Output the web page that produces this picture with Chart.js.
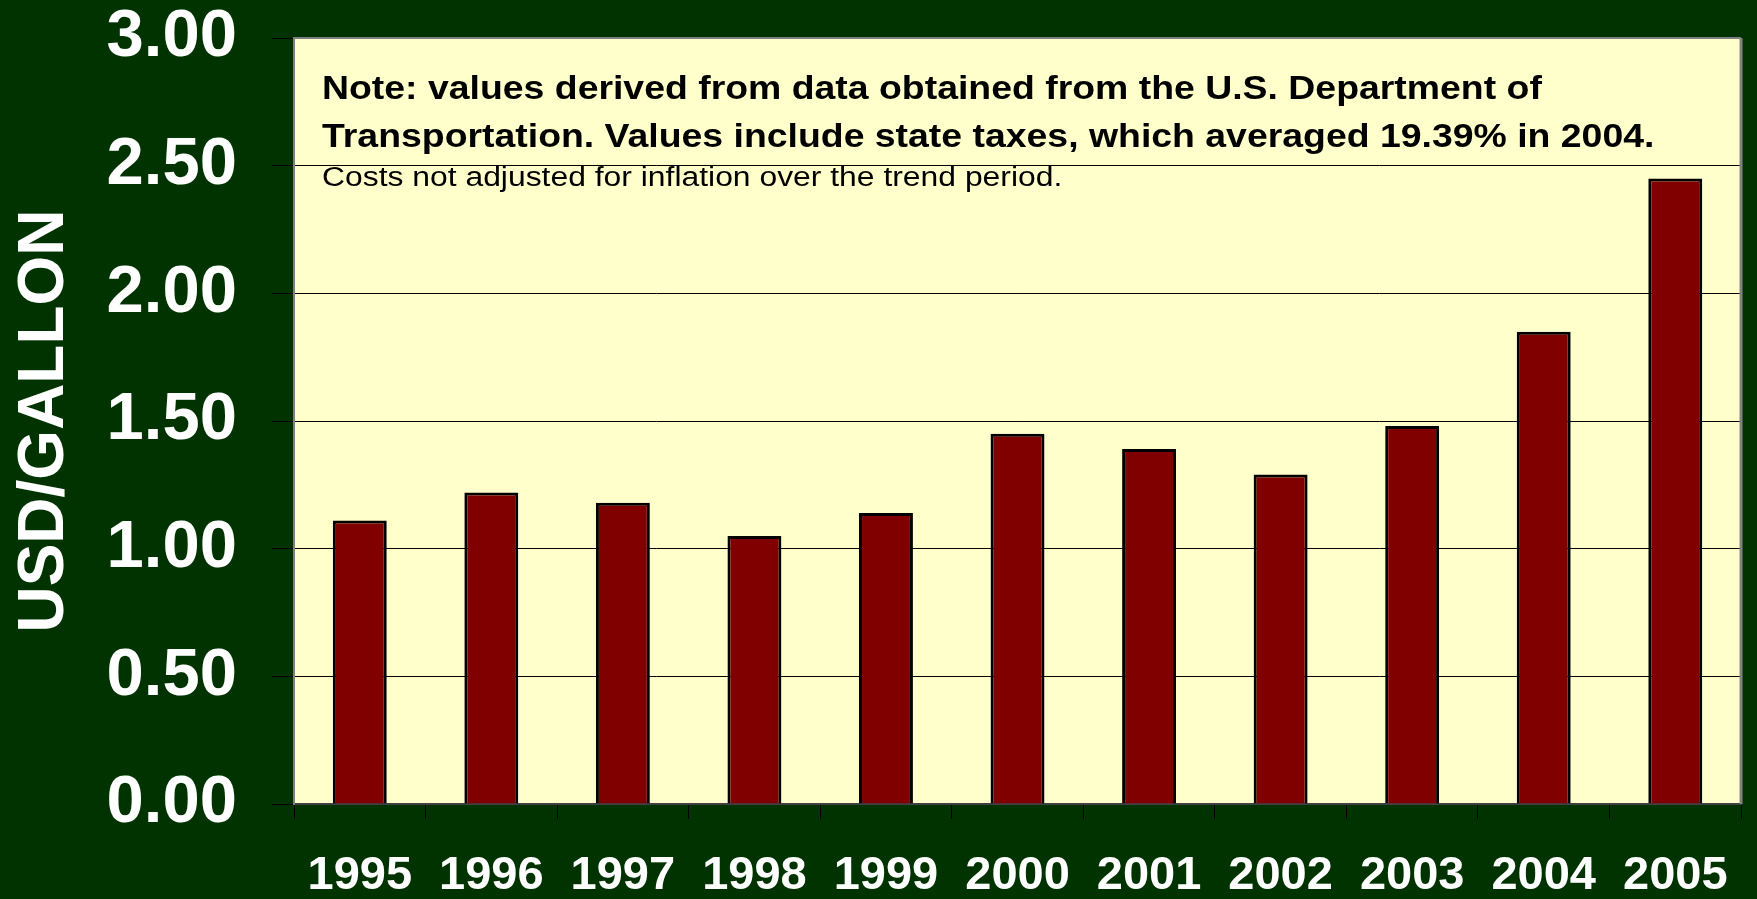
<!DOCTYPE html>
<html><head><meta charset="utf-8">
<script src="https://cdn.jsdelivr.net/npm/chart.js@4.4.1/dist/chart.umd.min.js"></script>
<style>
html,body{margin:0;padding:0;background:#003300;overflow:hidden;}
#wrap{width:1757px;height:899px;}
</style></head><body>
<div id="wrap"><canvas id="c" width="1757" height="899"></canvas></div>
<script>
const years = ['1995','1996','1997','1998','1999','2000','2001','2002','2003','2004','2005'];
const prices = [1.11, 1.22, 1.18, 1.05, 1.14, 1.45, 1.39, 1.29, 1.48, 1.85, 2.45];
const yTickLabels = ['0.00','0.50','1.00','1.50','2.00','2.50','3.00'];
const axisTitle = 'USD/GALLON';
const noteBold = [
  'Note: values derived from data obtained from the U.S. Department of',
  'Transportation. Values include state taxes, which averaged 19.39% in 2004.'
];
const noteRegular = 'Costs not adjusted for inflation over the trend period.';

const FONT = '"Liberation Sans", Arial, sans-serif';

function drawScaled(ctx, text, x, y, sx) {
  ctx.save();
  ctx.translate(x, y);
  ctx.scale(sx, 1);
  ctx.fillText(text, 0, 0);
  ctx.restore();
}

const framePlugin = {
  id: 'frame',
  beforeDraw(chart) {
    const {ctx, chartArea: a, width, height} = chart;
    ctx.save();
    ctx.fillStyle = '#003300';
    ctx.fillRect(0, 0, width, height);
    ctx.fillStyle = '#FFFFCC';
    ctx.fillRect(a.left, a.top, a.right - a.left, a.bottom - a.top);
    ctx.restore();
  },
  beforeDatasetsDraw(chart) {
    const {ctx, chartArea: a} = chart;
    ctx.save();
    ctx.fillStyle = '#000000';
    ctx.textBaseline = 'alphabetic';
    ctx.textAlign = 'left';
    ctx.font = 'bold 34px ' + FONT;
    drawScaled(ctx, noteBold[0], a.left + 28, a.top + 61, 1.1);
    drawScaled(ctx, noteBold[1], a.left + 28, a.top + 109, 1.1);
    ctx.font = '27px ' + FONT;
    drawScaled(ctx, noteRegular, a.left + 28, a.top + 148, 1.18);
    ctx.restore();
  },
  afterDraw(chart) {
    const {ctx, chartArea: a} = chart;
    ctx.save();
    ctx.strokeStyle = '#808080';
    ctx.lineWidth = 2;
    ctx.beginPath();
    ctx.moveTo(a.left, a.top);
    ctx.lineTo(a.right, a.top);
    ctx.stroke();
    ctx.lineWidth = 3;
    ctx.beginPath();
    ctx.moveTo(a.right, a.top);
    ctx.lineTo(a.right, a.bottom);
    ctx.stroke();
    ctx.restore();
  }
};

new Chart(document.getElementById('c'), {
  type: 'bar',
  data: {
    labels: years,
    datasets: [{
      data: prices,
      backgroundColor: '#800000',
      borderColor: '#000000',
      borderWidth: 3,
      barPercentage: 0.41,
      categoryPercentage: 1.0
    }]
  },
  options: {
    responsive: false,
    animation: false,
    devicePixelRatio: 1,
    layout: { padding: { top: 38, right: 10, bottom: 0, left: 0 } },
    plugins: { legend: { display: false }, tooltip: { enabled: false } },
    scales: {
      x: {
        afterFit(scale) { scale.height = 95; },
        grid: { offset: true, drawOnChartArea: false, drawTicks: true, tickLength: 15, color: '#000000', lineWidth: 1 },
        border: { display: true, color: '#404040', width: 2 },
        ticks: {
          color: '#FFFFFF',
          font: { family: FONT, size: 47, weight: 'bold', lineHeight: 1.2 },
          padding: 29,
          maxRotation: 0,
          autoSkip: false
        }
      },
      y: {
        min: 0,
        max: 3,
        afterFit(scale) { scale.width = 294; },
        grid: { color: '#000000', lineWidth: 1, drawTicks: true, tickLength: 22 },
        border: { display: true, color: '#808080', width: 2 },
        ticks: {
          stepSize: 0.5,
          color: '#FFFFFF',
          font: { family: FONT, size: 67, weight: 'bold', lineHeight: 0.01 },
          padding: 35,
          callback: (v, i) => yTickLabels[i]
        },
        title: {
          display: true,
          text: axisTitle,
          color: '#FFFFFF',
          font: { family: FONT, size: 64, weight: 'bold', lineHeight: 1.2 },
          padding: { top: 7, bottom: 0 }
        }
      }
    }
  },
  plugins: [framePlugin]
});
</script>
</body></html>
